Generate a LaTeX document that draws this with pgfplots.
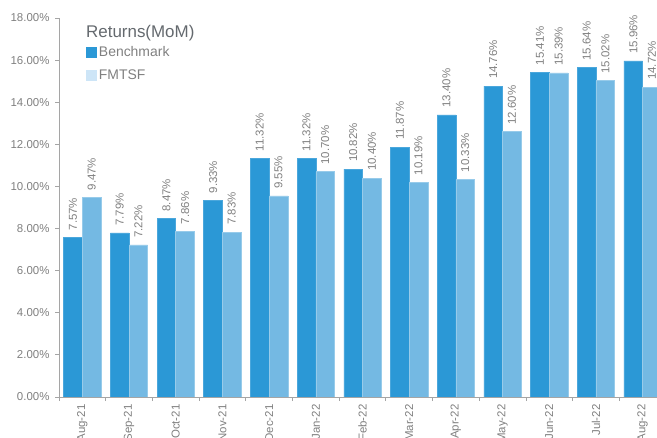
\documentclass[border=0pt]{standalone}
\usepackage{pgfplots}
\pgfplotsset{compat=1.18}
\usepackage{fontspec}
\setmainfont{Liberation Sans}
\definecolor{bench}{RGB}{43,152,214}
\definecolor{fmt}{RGB}{116,185,227}
\definecolor{fmtleg}{RGB}{205,229,247}
\definecolor{txt}{RGB}{128,128,128}
\definecolor{ttl}{RGB}{100,105,110}
\definecolor{axl}{RGB}{165,165,165}

\begin{document}
\begin{tikzpicture}
\clip (0,0) rectangle (657bp,438bp);
\begin{axis}[
  at={(59bp,41bp)}, anchor=south west,
  scale only axis, width=607bp, height=379bp,
  xmin=-0.5, xmax=12.5, ymin=0, ymax=18,
  ybar=0pt, bar width=0.4,
  axis lines*=left,
  axis line style={axl, line width=0.8bp},
  tick align=outside,
  xtick={0,...,12},
  xticklabels={Aug-21,Sep-21,Oct-21,Nov-21,Dec-21,Jan-22,Feb-22,Mar-22,Apr-22,May-22,Jun-22,Jul-22,Aug-22},
  major x tick style={draw=none},
  minor xtick={-0.5,0.5,...,12.5},
  minor tick length=4bp,
  minor x tick style={axl, line width=0.8bp},
  ytick={0,2,...,18},
  major tick length=4bp,
  y tick style={axl, line width=0.8bp},
  /pgf/number format/assume math mode=true,
  yticklabel={\pgfmathprintnumber[fixed,fixed zerofill,precision=2]{\tick}\%},
  y tick label style={font=\fontsize{11.5}{13}\selectfont, text=txt, xshift=-2bp},
  x tick label style={rotate=90, anchor=east, font=\fontsize{11.5}{13}\selectfont, text=txt},
  nodes near coords={\pgfmathprintnumber[fixed,fixed zerofill,precision=2]{\pgfplotspointmeta}\%},
  every node near coord/.append style={rotate=90, anchor=west, inner xsep=7bp,
    font=\fontsize{11.5}{13}\selectfont, text=txt},
  legend style={at={(0.04,0.935)}, anchor=north west, draw=none, fill=none,
    font=\fontsize{14}{16}\selectfont, text=txt, row sep=7bp},
  legend cell align=left,
]
\addplot[fill=bench, draw=bench!85!white, line width=0.5bp,
  legend image code/.code={\fill[bench] (0bp,-5bp) rectangle (10bp,5bp);}]
  coordinates {(0,7.57) (1,7.79) (2,8.47) (3,9.33) (4,11.32) (5,11.32) (6,10.82)
    (7,11.87) (8,13.40) (9,14.76) (10,15.41) (11,15.64) (12,15.96)};
\addplot[fill=fmt, draw=fmt!75!white, line width=0.5bp,
  legend image code/.code={\fill[fmtleg] (0bp,-5bp) rectangle (10bp,5bp);}]
  coordinates {(0,9.47) (1,7.22) (2,7.86) (3,7.83) (4,9.55) (5,10.70) (6,10.40)
    (7,10.19) (8,10.33) (9,12.60) (10,15.39) (11,15.02) (12,14.72)};
\legend{Benchmark,FMTSF}
\end{axis}
\node[anchor=west, inner sep=0pt, text=ttl, font=\fontsize{17}{19}\selectfont] at (86bp,405bp) {Returns(MoM)};
\end{tikzpicture}
\end{document}
